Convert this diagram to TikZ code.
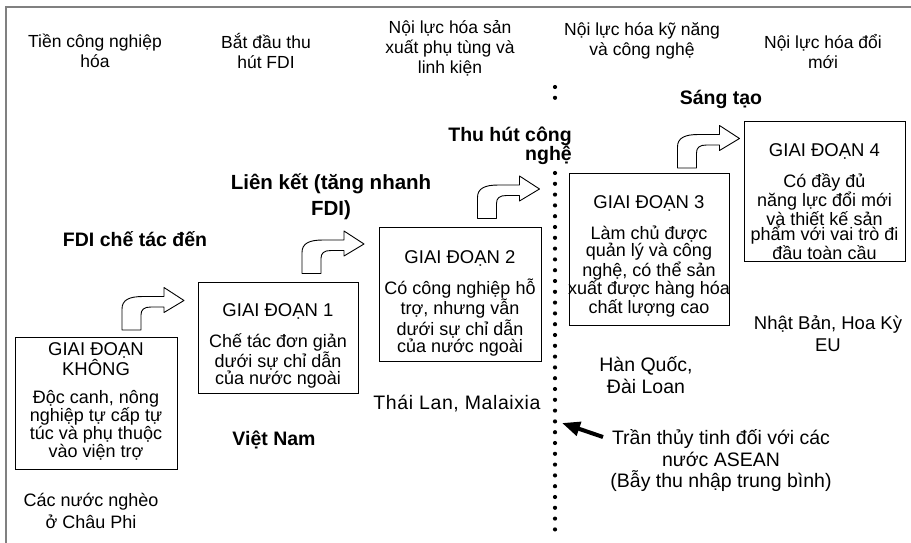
\documentclass[tikz,border=0pt]{standalone}
\usepackage{fontspec}
\setmainfont{Liberation Sans}
\usetikzlibrary{arrows.meta}
\begin{document}
\begin{tikzpicture}[x=1pt,y=-1pt,
  framerule/.style={draw=black!50, line width=1.5pt},
  stagebox/.style={draw=black, line width=0.9pt, inner sep=0pt, outer sep=0pt},
  hdr/.style={align=center, inner sep=0pt, font=\fontsize{17.5}{20}\selectfont},
  ttl/.style={align=center, inner sep=0pt, font=\fontsize{18.5}{15}\selectfont},
  body/.style={align=center, inner sep=0pt, font=\fontsize{18}{15.8}\selectfont},
  lbl/.style={align=center, inner sep=0pt, font=\fontsize{18}{22}\selectfont},
  biglbl/.style={align=center, inner sep=0pt, font=\fontsize{19.5}{22}\selectfont},
  boldlbl/.style={align=center, inner sep=0pt, font=\bfseries\fontsize{19.5}{26}\selectfont},
  dotline/.style={line width=4.2pt, line cap=round, dash pattern=on 0pt off 10.8pt},
  blockarrow/.style={draw=black, fill=white, line width=0.9pt, line join=round},
  bigarrow/.style={line width=4pt, -{Triangle[length=18pt,width=14pt]}},
  bendarrow/.pic={
    \path[blockarrow] (0,0) -- (0,-21)
      .. controls (0,-30) and (7,-33.5) .. (21,-33.5)
      -- (42,-33.5) -- (42,-42.5) -- (62,-29.5) -- (42,-17.5) -- (42,-23)
      -- (29,-23) .. controls (22,-23) and (19,-20.5) .. (19,-15)
      -- (19,0) -- cycle;
  }
]
\useasboundingbox (0,0) rectangle (911,543);
% frame (top and left rules)
\coordinate (fl) at (6,543);
\coordinate (fc) at (6,7);
\coordinate (fr) at (911,7);
\draw[framerule] (fl) -- (fc) -- (fr);

% headers
\node[hdr] (h1) at (95,51) {Tiền công nghiệp\\hóa};
\node[hdr] (h2) at (266,51) {Bắt đầu thu\\hút FDI};
\node[hdr] (h3) at (450,48) {Nội lực hóa sản\\xuất phụ tùng và\\linh kiện};
\node[hdr] (h4) at (642,41) {Nội lực hóa kỹ năng\\và công nghệ};
\node[hdr] (h5) at (823,52) {Nội lực hóa đổi\\mới};

% stage boxes
\node[stagebox, minimum width=162pt, minimum height=132pt] (b0) at (96,403) {};
\node[stagebox, minimum width=160pt, minimum height=111pt] (b1) at (278,337.5) {};
\node[stagebox, minimum width=162pt, minimum height=134pt] (b2) at (460,294) {};
\node[stagebox, minimum width=160pt, minimum height=152pt] (b3) at (649,249) {};
\node[stagebox, minimum width=161pt, minimum height=140pt] (b4) at (824.5,191) {};

% box texts
\node[ttl] (t0) at (96,359.5) {GIAI ĐOẠN\\KHÔNG};
\node[body] (d0) at (96,425.5) {Độc canh, nông\\nghiệp tự cấp tự\\túc và phụ thuộc\\vào viện trợ};
\node[ttl] (t1) at (278,311.5) {GIAI ĐOẠN 1};
\node[body] (d1) at (278,361) {Chế tác đơn giản\\dưới sự chỉ dẫn\\của nước ngoài};
\node[ttl] (t2) at (460,258.5) {GIAI ĐOẠN 2};
\node[body] (d2) at (460,317.5) {Có công nghiệp hỗ\\trợ, nhưng vẫn\\dưới sự chỉ dẫn\\của nước ngoài};
\node[ttl] (t3) at (649,203.5) {GIAI ĐOẠN 3};
\node[body] (d3) at (649,271.5) {Làm chủ được\\quản lý và công\\nghệ, có thể sản\\xuất được hàng hóa\\chất lượng cao};
\node[ttl] (t4) at (824.5,151.5) {GIAI ĐOẠN 4};
\node[body] (d4) at (824.5,216.5) {Có đầy đủ\\năng lực đổi mới\\và thiết kế sản\\phẩm với vai trò đi\\đầu toàn cầu};

% bent block arrows
\pic (a1) at (122,330) {bendarrow};
\pic (a2) at (302,273.5) {bendarrow};
\pic (a3) at (477.5,218.5) {bendarrow};
\pic (a4) at (677.5,168) {bendarrow};

% bold labels
\node[boldlbl] (fdi) at (135,239) {FDI chế tác đến};
\node[boldlbl, font=\bfseries\fontsize{20.5}{26}\selectfont] (lk) at (331,197) {Liên kết (tăng nhanh\\FDI)};
\node[boldlbl, align=right, anchor=east, font=\bfseries\fontsize{19.5}{19}\selectfont] (thc) at (572,146) {Thu hút công\\nghệ};
\node[boldlbl] (st) at (721,99) {Sáng tạo};
\node[boldlbl] (vn) at (274,440) {Việt Nam};

% country labels
\node[lbl, font=\addfontfeature{LetterSpace=3}\fontsize{19.5}{22}\selectfont] (tl) at (457,404) {Thái Lan, Malaixia};
\node[biglbl] (hq) at (646,375) {Hàn Quốc,\\Đài Loan};
\node[lbl, font=\fontsize{18.5}{22}\selectfont] (nb) at (828,334) {Nhật Bản, Hoa Kỳ\\EU};
\node[biglbl, font=\fontsize{19.5}{21.5}\selectfont] (tr) at (721,461) {Trần thủy tinh đối với các\\nước ASEAN\\(Bẫy thu nhập trung bình)};
\node[lbl] (cn) at (91,511) {Các nước nghèo\\ở Châu Phi};

% dotted ceiling line
\coordinate (dA) at (555,87);
\coordinate (dB) at (555,108);
\coordinate (dC) at (555,173);
\coordinate (dD) at (555,530);
\draw[dotline] (dA) -- (dB);
\draw[dotline] (dC) -- (dD);

% thick arrow to the ceiling
\coordinate (arT) at (603,437);
\coordinate (arH) at (562,423);
\draw[bigarrow] (arT) -- (arH);
\end{tikzpicture}
\end{document}
